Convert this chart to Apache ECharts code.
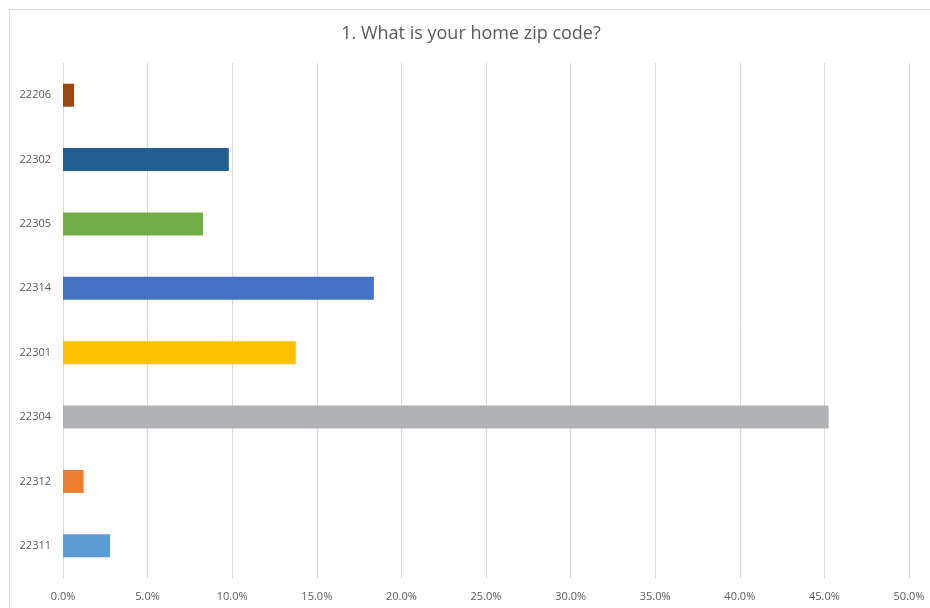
<!DOCTYPE html>
<html><head><meta charset="utf-8">
<script src="https://cdn.jsdelivr.net/npm/echarts@6/dist/echarts.min.js"></script>
<style>html,body{margin:0;padding:0;background:#fff}#c{width:930px;height:608px}</style>
</head><body><div id="c"></div>
<script>
var categories = ['22311','22312','22304','22301','22314','22305','22302','22206'];
var values = [2.78, 1.22, 45.25, 13.76, 18.37, 8.27, 9.80, 0.65];
var colors = ['#5B9BD5','#ED7D31','#B0B1B5','#FFC000','#4472C4','#70AD47','#255E91','#9E480E'];
var titleText = '1. What is your home zip code?';
var font = 'Open Sans';
var chart = echarts.init(document.getElementById('c'));
chart.setOption({
  animation:false,
  title:{text:titleText,left:466,top:20,textAlign:'center',textStyle:{fontFamily:font,fontSize:18,fontWeight:'normal',color:'#595959'}},
  graphic:[{type:'rect',shape:{x:9.5,y:9.5,width:940,height:620},style:{fill:'none',stroke:'#d9d9d9',lineWidth:1},silent:true}],
  grid:{left:63,right:21,top:63,bottom:30},
  xAxis:{type:'value',min:0,max:50,interval:5,
    axisLine:{show:false},axisTick:{show:false},
    splitLine:{lineStyle:{color:'#d9d9d9',width:1}},
    axisLabel:{margin:13,fontFamily:font,fontSize:11,color:'#595959',formatter:function(v){return v.toFixed(1)+'%';}}},
  yAxis:{type:'category',data:categories,
    axisLine:{show:false},axisTick:{show:false},
    axisLabel:{margin:12,fontFamily:font,fontSize:11,color:'#595959'}},
  series:[{type:'bar',barWidth:23,
    data:values.map(function(v,i){return {value:v,itemStyle:{color:colors[i]}};})}]
});
</script></body></html>
